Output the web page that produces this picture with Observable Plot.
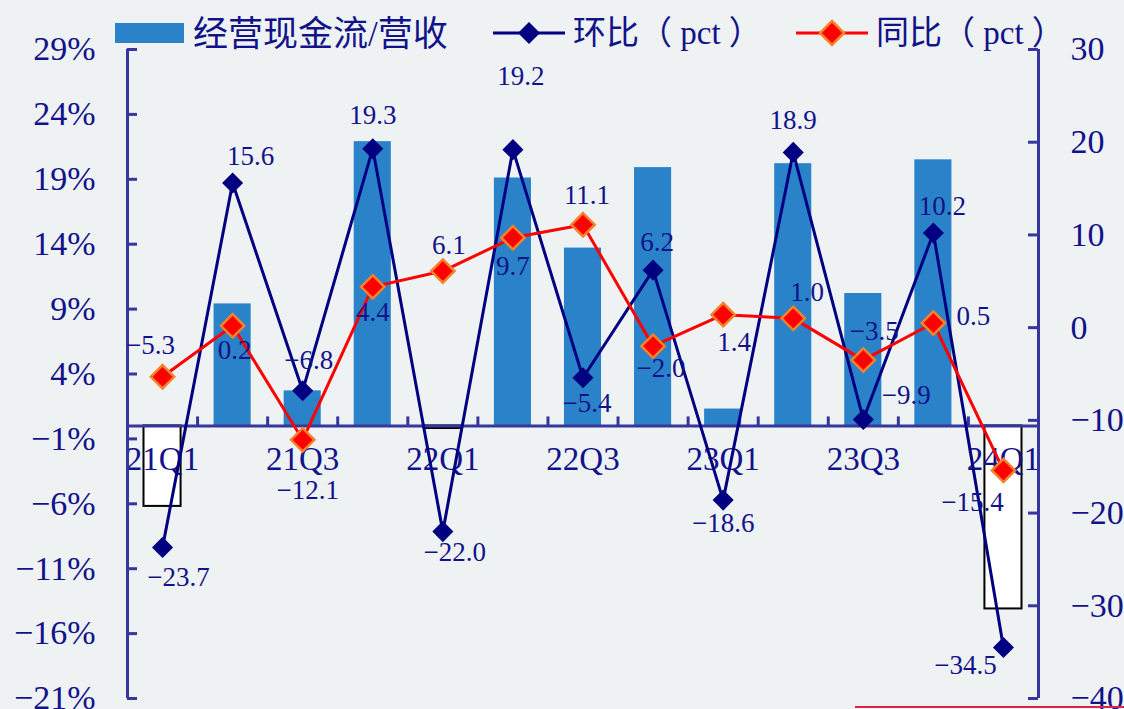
<!DOCTYPE html>
<html>
<head>
<meta charset="utf-8">
<script src="https://cdn.jsdelivr.net/npm/d3@7"></script>
<script src="https://cdn.jsdelivr.net/npm/@observablehq/plot@0.6"></script>
<style>
  html, body { margin: 0; padding: 0; background: #eef2f3; }
  #wrap { position: relative; width: 1124px; height: 709px; overflow: hidden; background: #eef2f3; }
  #chart { position: absolute; left: 0; top: 0; }
  .leg { position: absolute; top: 13px; display: flex; align-items: center; height: 40px;
         font-family: "Times New Roman", "Liberation Serif", "Noto Sans CJK SC", serif; font-size: 33px; color: #12128a; white-space: nowrap; }
  .leg svg { display: block; margin-right: 8px; }
  .leg span { position: relative; top: -3px; }
  #redline { position: absolute; left: 855px; top: 706px; width: 269px; height: 2px; background: #d8264b; }
</style>
</head>
<body>
<div id="wrap">
  <div id="chart"></div>
  <div class="leg" style="left:115px"><svg width="70" height="22"><rect x="0" y="1" width="69" height="20" fill="#2a82c8"/></svg><span style="font-size:35px">经营现金流/营收</span></div>
  <div class="leg" style="left:493px"><svg width="72" height="24"><line x1="0" y1="12" x2="72" y2="12" stroke="#000080" stroke-width="3"/><path d="M36,1L47,12L36,23L25,12Z" fill="#000080"/></svg><span>环比（ pct ）</span></div>
  <div class="leg" style="left:796px"><svg width="72" height="28"><line x1="0" y1="14" x2="72" y2="14" stroke="#ff0000" stroke-width="3"/><path d="M36,2L48,14L36,26L24,14Z" fill="#ff0000" stroke="#f5822a" stroke-width="2.5"/></svg><span>同比（ pct ）</span></div>
  <div id="redline"></div>
</div>
<script>
// ---- data ----
const quarters = ["21Q1","21Q2","21Q3","21Q4","22Q1","22Q2","22Q3","22Q4","23Q1","23Q2","23Q3","23Q4","24Q1"];
const cashRatio = [-6.2, 9.4, 2.7, 21.9, -0.2, 19.1, 13.7, 19.9, 1.3, 20.2, 10.2, 20.5, -14.1]; // %
const qoq = [-23.7, 15.6, -6.8, 19.3, -22.0, 19.2, -5.4, 6.2, -18.6, 18.9, -9.9, 10.2, -34.5]; // pct
const yoy = [-5.3, 0.2, -12.1, 4.4, 6.1, 9.7, 11.1, -2.0, 1.4, 1.0, -3.5, 0.5, -15.4]; // pct
const leftTicks = [-21, -16, -11, -6, -1, 4, 9, 14, 19, 24, 29];
const rightTicks = [-40, -30, -20, -10, 0, 10, 20, 30];
const xLabels = ["21Q1","21Q3","22Q1","22Q3","23Q1","23Q3","24Q1"];

// ---- label placement (layout, px offsets) ----
const qoqLabelOffsets = [[16,30],[18,-27],[6,-30],[0,-33],[12,21],[8,-73],[4,26],[4,-28],[0,23],[0,-32],[43,-24],[9,-27],[-38,18]];
const yoyLabelOffsets = [[-12,-31],[2,25],[5,51],[0,26],[6,-26],[0,29],[4,-29],[8,22],[11,28],[14,-26],[11,-29],[40,-7],[-31,32]];

// ---- styles ----
const W = 1124, H = 709, mT = 49, mB = 11, mL = 127, mR = 86;
const navy = "#000080", red = "#ff0000", orange = "#f5822a", barBlue = "#2a82c8";
const axisColor = "#36369c", textColor = "#12128a";
const serif = '"Times New Roman", "Liberation Serif", serif';

const leftDomain = [-21, 29], rightDomain = [-40, 30];
const toLeft = v => leftDomain[0] + (v - rightDomain[0]) * (leftDomain[1] - leftDomain[0]) / (rightDomain[1] - rightDomain[0]);
const yPerPx = (leftDomain[1] - leftDomain[0]) / (H - mT - mB);
const xPerPx = quarters.length / (W - mL - mR);
const minus = s => s.replace("-", "\u2212");
const fmt1 = v => minus(v.toFixed(1));

const idx = quarters.map((q, i) => i);
const bars = idx.map(i => ({i, q: quarters[i], v: cashRatio[i]}));
const qoqData = idx.map(i => ({i, v: qoq[i], y: toLeft(qoq[i])}));
const yoyData = idx.map(i => ({i, v: yoy[i], y: toLeft(yoy[i])}));

const labelMarks = (data, offs) => data.map((d, k) => Plot.text([d], {
  x: d => d.i + 0.5, y: "y", text: d => fmt1(d.v),
  dx: offs[k][0], dy: offs[k][1], fill: textColor, fontSize: 27, fontFamily: serif
}));

const plot = Plot.plot({
  width: W, height: H, marginTop: mT, marginBottom: mB, marginLeft: mL, marginRight: mR,
  style: {background: "transparent", overflow: "visible"},
  x: {domain: [0, quarters.length], axis: null},
  y: {domain: leftDomain, axis: null},
  marks: [
    Plot.rectY(bars, {x1: d => d.i, x2: d => d.i + 1, y1: 0, y2: "v", insetLeft: 16.5, insetRight: 16.5,
      fill: d => d.v < 0 ? "#ffffff" : barBlue, stroke: d => d.v < 0 ? "#000000" : "none", strokeWidth: 2}),
    Plot.ruleY([0], {stroke: axisColor, strokeWidth: 3}),
    Plot.ruleX(d3.range(1, quarters.length), {x: d => d, y1: 0, y2: 9 * yPerPx, stroke: axisColor, strokeWidth: 3}),
    Plot.text(xLabels, {x: d => quarters.indexOf(d) + 0.5, y: 0, text: d => d, dy: 34, fill: textColor, fontSize: 33, fontFamily: serif}),
    // left axis
    Plot.ruleX([0], {stroke: axisColor, strokeWidth: 3}),
    Plot.ruleY(leftTicks, {y: d => d, x1: 0, x2: 10 * xPerPx, stroke: axisColor, strokeWidth: 3}),
    Plot.text(leftTicks, {x: 0, y: d => d, text: d => minus(String(d)) + "%", textAnchor: "end", dx: -32, fill: textColor, fontSize: 34, fontFamily: serif}),
    // right axis
    Plot.ruleX([quarters.length], {stroke: axisColor, strokeWidth: 3}),
    Plot.ruleY(rightTicks, {y: d => toLeft(d), x1: quarters.length - 10 * xPerPx, x2: quarters.length, stroke: axisColor, strokeWidth: 3}),
    Plot.text(rightTicks, {x: quarters.length, y: d => toLeft(d), text: d => minus(String(d)), textAnchor: "start", dx: 32, fill: textColor, fontSize: 34, fontFamily: serif}),
    // QoQ line
    Plot.line(qoqData, {x: d => d.i + 0.5, y: "y", stroke: navy, strokeWidth: 3}),
    Plot.dot(qoqData, {x: d => d.i + 0.5, y: "y", symbol: "diamond2", r: 9.5, fill: navy}),
    // YoY line
    Plot.line(yoyData, {x: d => d.i + 0.5, y: "y", stroke: red, strokeWidth: 3}),
    Plot.dot(yoyData, {x: d => d.i + 0.5, y: "y", symbol: "diamond2", r: 10.5, fill: red, stroke: orange, strokeWidth: 2.5}),
    ...labelMarks(qoqData, qoqLabelOffsets),
    ...labelMarks(yoyData, yoyLabelOffsets)
  ]
});
document.getElementById("chart").appendChild(plot);
</script>
</body>
</html>
